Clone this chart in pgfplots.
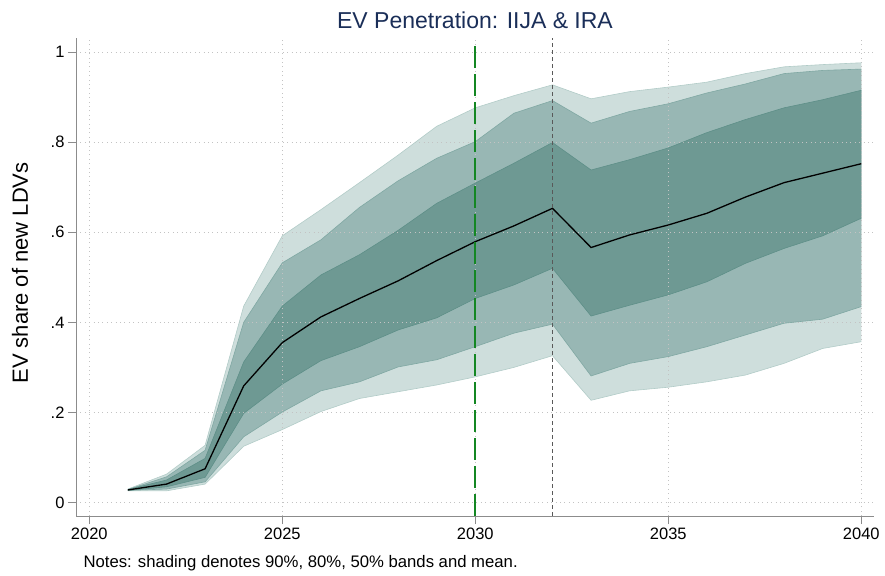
\documentclass[border=0pt]{standalone}
\usepackage{fontspec}
\setmainfont{Liberation Sans}
\usepackage{pgfplots}
\pgfplotsset{compat=1.18}
\usepgfplotslibrary{fillbetween}
\usepackage{pgfplotstable}

\definecolor{bandA}{RGB}{206,222,220}
\definecolor{bandB}{RGB}{152,183,180}
\definecolor{bandC}{RGB}{110,153,147}
\definecolor{edgeA}{RGB}{178,204,200}
\definecolor{edgeB}{RGB}{128,168,163}
\definecolor{edgeC}{RGB}{94,143,136}
\definecolor{titlec}{RGB}{26,46,88}
\definecolor{gridc}{RGB}{195,195,195}
\definecolor{axc}{RGB}{140,140,140}
\definecolor{dkgreen}{RGB}{20,135,35}

\pgfplotstableread{
year l90 l80 l50 mean u50 u80 u90
2021 0.026 0.027 0.027 0.028 0.029 0.029 0.030
2022 0.026 0.030 0.035 0.041 0.050 0.057 0.063
2023 0.041 0.046 0.056 0.075 0.098 0.116 0.127
2024 0.125 0.146 0.198 0.259 0.312 0.400 0.436
2025 0.162 0.201 0.263 0.355 0.436 0.532 0.592
2026 0.202 0.248 0.315 0.412 0.505 0.583 0.650
2027 0.231 0.268 0.346 0.453 0.550 0.655 0.710
2028 0.246 0.301 0.383 0.492 0.604 0.714 0.771
2029 0.261 0.317 0.410 0.537 0.664 0.764 0.835
2030 0.279 0.346 0.453 0.579 0.709 0.801 0.876
2031 0.300 0.376 0.483 0.614 0.753 0.864 0.903
2032 0.326 0.396 0.520 0.653 0.799 0.892 0.927
2033 0.227 0.281 0.414 0.566 0.738 0.842 0.896
2034 0.248 0.309 0.438 0.594 0.761 0.868 0.912
2035 0.256 0.324 0.461 0.616 0.787 0.885 0.922
2036 0.268 0.346 0.490 0.642 0.821 0.909 0.933
2037 0.283 0.372 0.531 0.678 0.850 0.929 0.952
2038 0.309 0.398 0.564 0.710 0.876 0.952 0.967
2039 0.342 0.407 0.592 0.731 0.894 0.959 0.972
2040 0.357 0.435 0.631 0.752 0.915 0.962 0.976
}\data

\begin{document}
\begin{tikzpicture}
\begin{axis}[
  at={(0,0)}, anchor=south west,
  scale only axis, width=798pt, height=478pt,
  xmin=2019.655, xmax=2040.33, ymin=-0.0298, ymax=1.031,
  axis x line*=bottom, axis y line*=left,
  axis line style={-, draw=axc, line width=0.9pt},
  xtick={2020,2025,2030,2035,2040},
  ytick={0,0.2,0.4,0.6,0.8,1},
  yticklabels={0,.2,.4,.6,.8,1},
  /pgf/number format/1000 sep={},
  /pgf/number format/assume math mode=true,
  grid=major,
  major grid style={draw=gridc, line width=0.6pt, dash pattern=on 0.8pt off 3.6pt},
  tick align=outside, major tick length=8pt,
  tick style={draw=axc, line width=0.9pt},
  ticklabel style={font=\fontsize{16.5}{18}\selectfont},
  set layers,
  fill between/on layer=axis background,
]
\addplot[name path=u90, draw=edgeA, line width=0.6pt] table[x=year,y=u90]{\data};
\addplot[name path=l90, draw=edgeA, line width=0.6pt] table[x=year,y=l90]{\data};
\addplot[fill=bandA, draw=none] fill between[of=u90 and l90];
\addplot[name path=u80, draw=edgeB, line width=0.6pt] table[x=year,y=u80]{\data};
\addplot[name path=l80, draw=edgeB, line width=0.6pt] table[x=year,y=l80]{\data};
\addplot[fill=bandB, draw=none] fill between[of=u80 and l80];
\addplot[name path=u50, draw=edgeC, line width=0.6pt] table[x=year,y=u50]{\data};
\addplot[name path=l50, draw=edgeC, line width=0.6pt] table[x=year,y=l50]{\data};
\addplot[fill=bandC, draw=none] fill between[of=u50 and l50];
\addplot[black, line width=1.3pt] table[x=year,y=mean]{\data};
\addplot[dkgreen, line width=1.6pt, dash pattern=on 22pt off 6pt] coordinates {(2030,-0.0298) (2030,1.0207)};
\addplot[black!65, line width=1.1pt, dash pattern=on 4pt off 3pt] coordinates {(2032,-0.0298) (2032,1.031)};
\end{axis}
\node[anchor=base, font=\fontsize{23}{27}\selectfont, text=titlec] at (399pt,487.7pt) {EV Penetration: IIJA \& IRA};
\node[rotate=90, anchor=base, font=\fontsize{22}{25}\selectfont] at (-48pt,243pt) {EV share of new LDVs};
\node[anchor=base west, font=\fontsize{16.7}{20}\selectfont] at (4pt,-51pt) {Notes: shading denotes 90\%, 80\%, 50\% bands and mean.};
\pgfresetboundingbox
\path[use as bounding box] (-76pt,-59pt) rectangle (809pt,516pt);
\end{tikzpicture}
\end{document}
